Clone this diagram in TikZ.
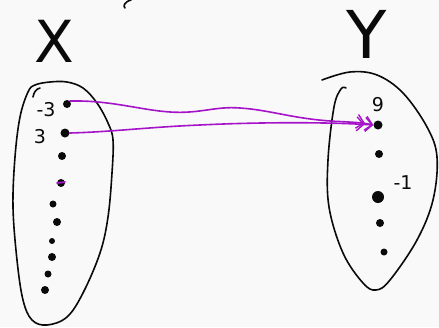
\documentclass[tikz,border=0pt]{standalone}
\usepackage{fontspec}
\setsansfont{DejaVu Sans}
\usetikzlibrary{arrows.meta}
\definecolor{paper}{RGB}{249,249,249}
\definecolor{pen}{RGB}{10,10,10}
\definecolor{ink}{RGB}{165,20,200}
\begin{document}
\begin{tikzpicture}[x=1pt,y=-1pt,
  stroke/.style={draw=pen, line width=1.6pt, line cap=round, line join=round},
  blob/.style={circle, fill=pen, inner sep=0pt, minimum size=#1},
  blob/.default=8pt,
  lbl/.style={text=pen, font=\sffamily\fontsize{19}{19}\selectfont, inner sep=0pt},
  setname/.style={text=pen, font=\sffamily\fontsize{#1}{#1}\selectfont, inner sep=0pt},
  conn/.style={draw=ink, line width=1.6pt, line cap=round,
    -{Straight Barb[length=7pt,width=14pt,line width=1.4pt]Straight Barb[length=7pt,width=14pt,line width=1.4pt]}}]
\fill[paper] (0,0) rectangle (439,327);
\useasboundingbox (0,0) rectangle (439,327);

% set names
\node[setname=58] (nx) at (54,41) {X};
\node[setname=66] (ny) at (367,34) {Y};
% fragment at the top edge
\draw[stroke] (131,0) .. controls (124,2) and (123,6) .. (125,8);

% domain X: closed loop with a small hook at the top
\draw[stroke] plot[smooth cycle, tension=0.6] coordinates {
  (28,92) (35,85) (50,82) (67,82) (83,88) (97,103) (108,123) (113,140)
  (112,173) (108,217) (100,253) (83,293) (67,317) (47,325) (32,320)
  (23,300) (17,260) (13,207) (15,157) (20,117)};
\draw[stroke] (33,97) .. controls (34,92) and (36,89) .. (40,88);

% codomain Y: open loop
\draw[stroke] plot[smooth, tension=0.6] coordinates {
  (346,88) (341,89) (334,107) (328,160) (329,207) (343,253) (363,283)
  (376,290) (390,280) (417,240) (433,200) (437,157) (427,127) (403,93)
  (377,75) (350,72) (322,80)};

% elements of X
\node[blob=8pt] (xm3) at (67,104) {};
\node[blob=9pt] (xp3) at (65,133) {};
\node[blob=8pt] (xa) at (62,156) {};
\node[blob=8pt] (xb) at (61,183) {};
\node[blob=7pt] (xc) at (53,204) {};
\node[blob=8pt] (xd) at (57,222) {};
\node[blob=6pt] (xe) at (52,241) {};
\node[blob=8pt] (xf) at (52,257) {};
\node[blob=7pt] (xg) at (48,274) {};
\node[blob=8pt] (xh) at (45,290) {};
\node[lbl] (lm3) at (46,110) {-3};
\node[lbl] (lp3) at (40,137) {3};

% elements of Y
\node[blob=9pt] (y9) at (378,125) {};
\node[blob=8pt] (ya) at (379,154) {};
\node[blob=12pt] (ym1) at (378,197) {};
\node[blob=8pt] (yb) at (380,223) {};
\node[blob=7pt] (yc) at (384,252) {};
\node[lbl] (l9) at (378,105) {9};
\node[lbl] (lm1) at (403,183) {-1};

% mapping arrows
\coordinate (k1) at (170,112);
\coordinate (k2) at (240,108);
\coordinate (k3) at (330,121);
\draw[conn] (xm3.north east) .. controls (110,100) and (140,110) .. (k1)
  .. controls (200,114) and (215,106) .. (k2)
  .. controls (270,110) and (290,118) .. (k3)
  .. controls (345,122) and (360,122) .. (y9.west);
\coordinate (k4) at (200,125);
\draw[conn] (xp3.east) .. controls (110,132) and (150,127) .. (k4)
  .. controls (260,122) and (330,122) .. (y9.west);
\draw[draw=ink, line width=1.8pt, line cap=round] (57,183) -- (65,182);
\end{tikzpicture}
\end{document}
